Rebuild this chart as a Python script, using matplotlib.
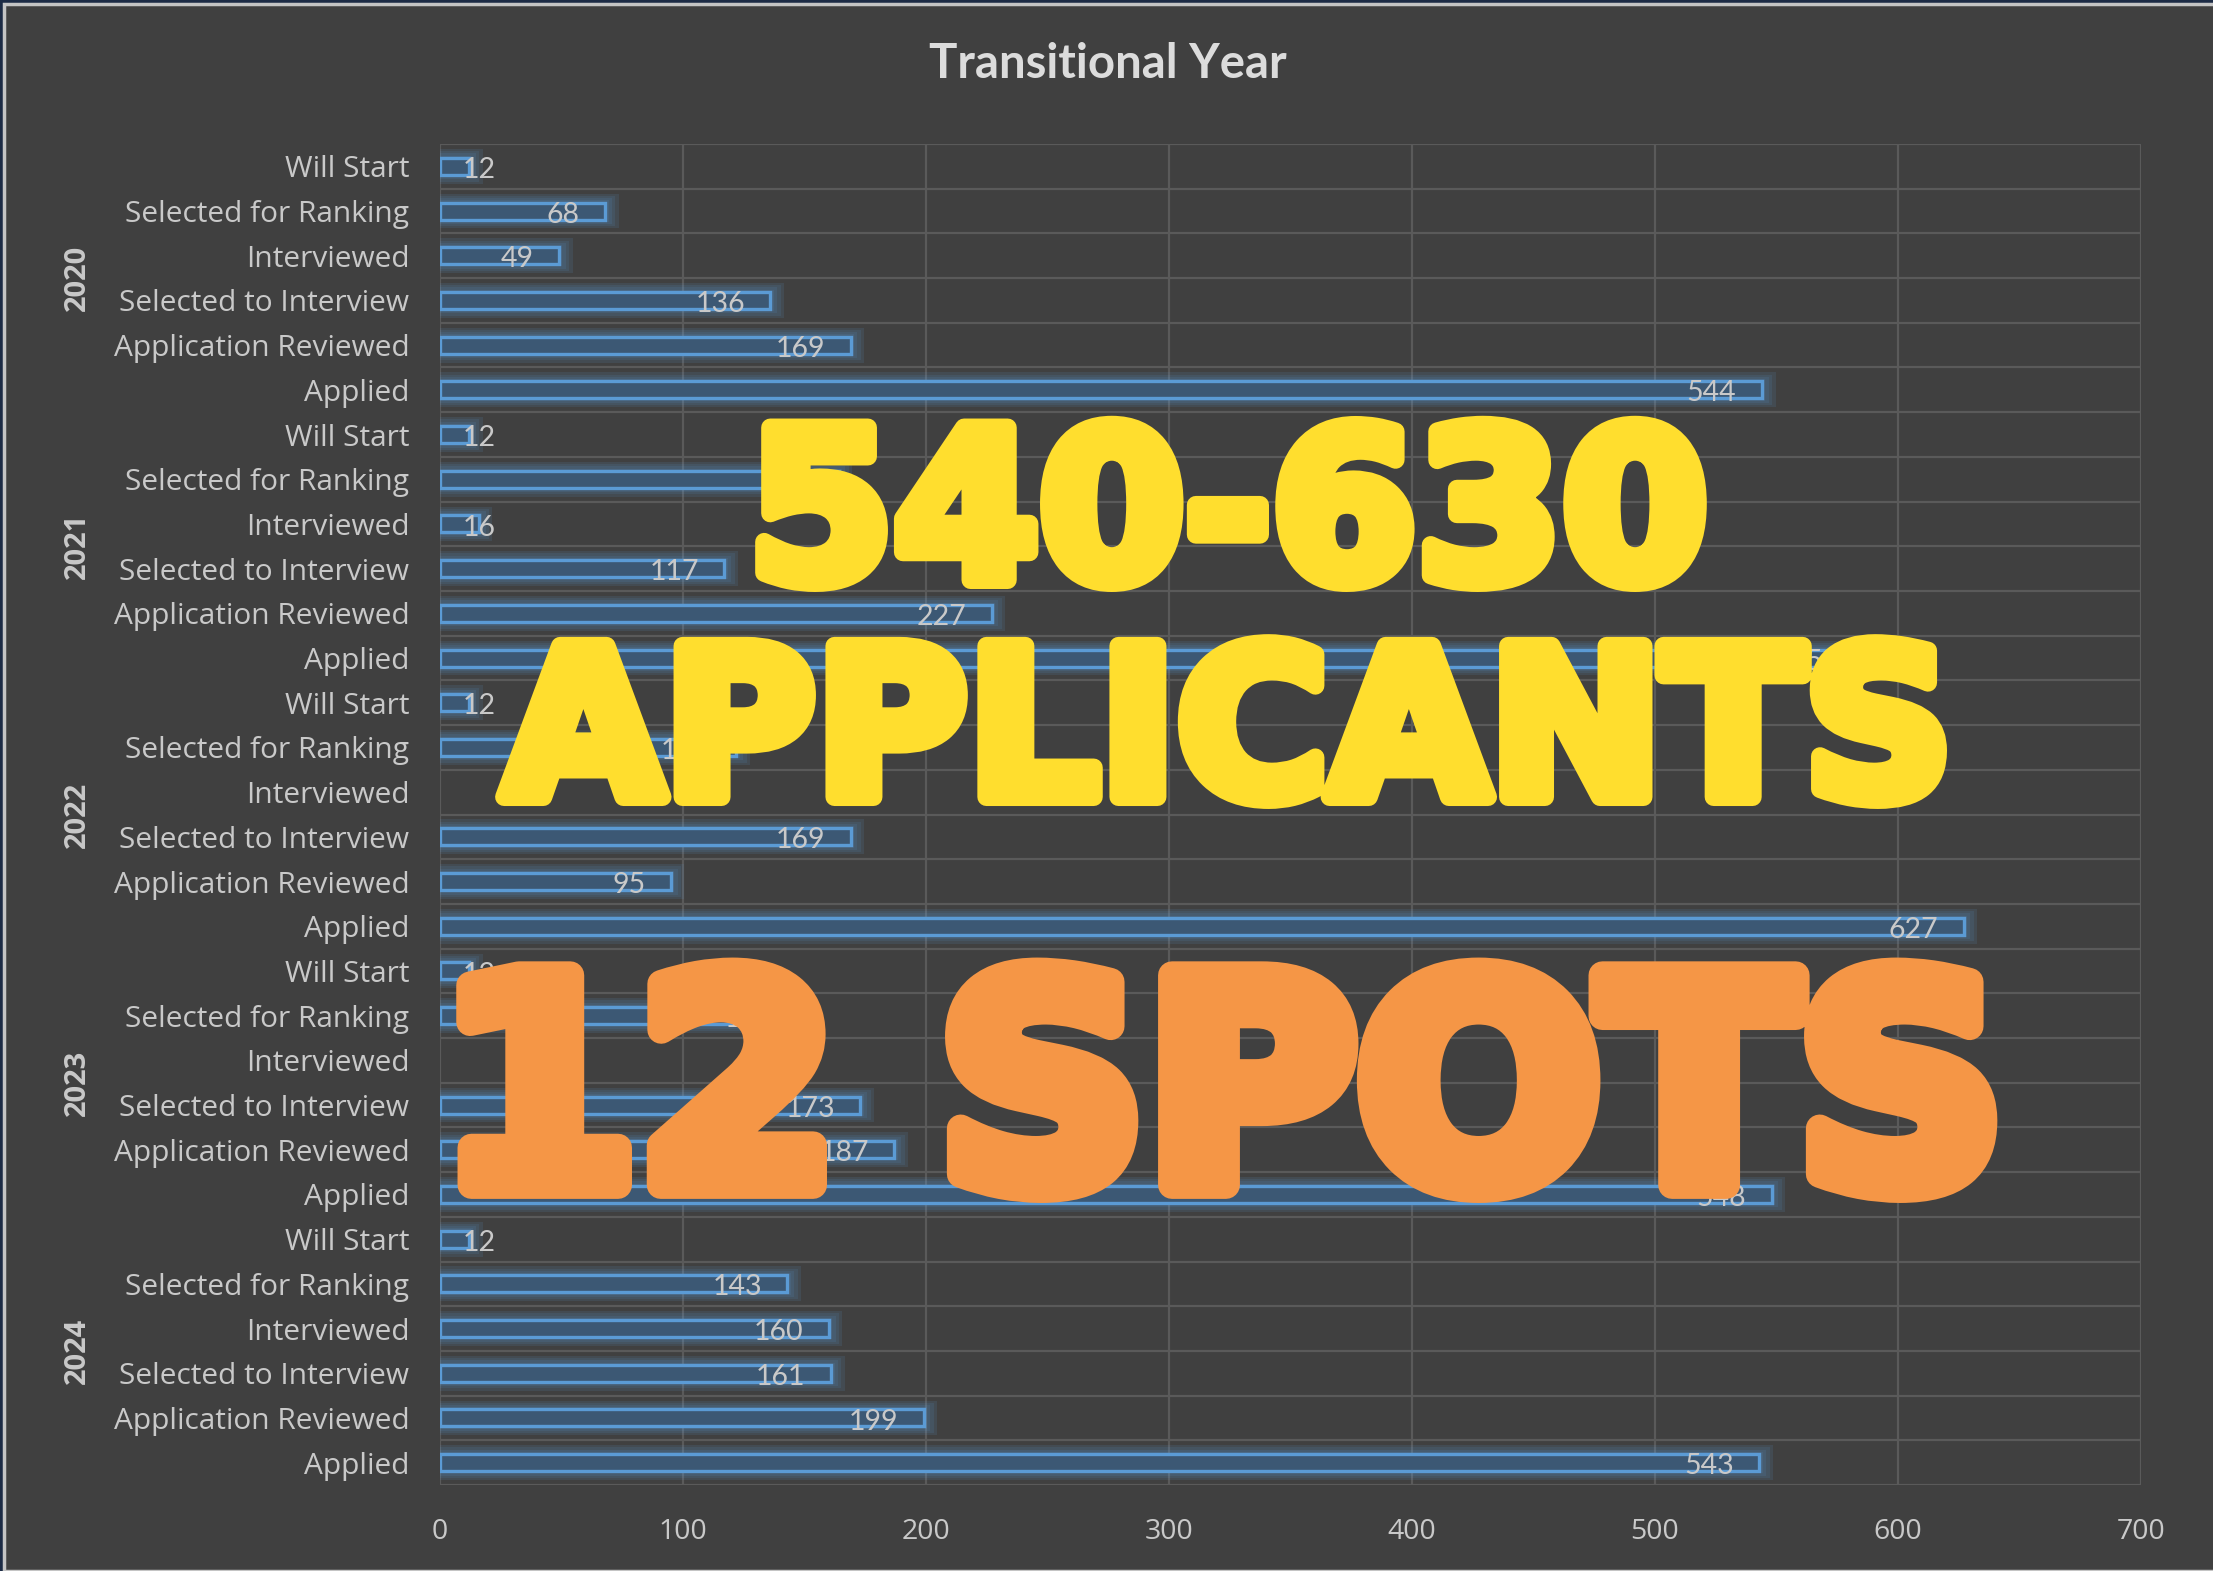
import matplotlib.pyplot as plt
from matplotlib.patches import Rectangle
import matplotlib.patheffects as pe

years = ["2020", "2021", "2022", "2023", "2024"]
stages = ["Applied", "Application Reviewed", "Selected to Interview",
          "Interviewed", "Selected for Ranking", "Will Start"]

# values per year, in stage order above (None = no bar)
values_2020 = [544, 169, 136, 49, 68, 12]
values_2021 = [593, 227, 117, 16, 164, 12]
values_2022 = [627, 95, 169, None, 122, 12]
values_2023 = [548, 187, 173, None, 148, 12]
values_2024 = [543, 199, 161, 160, 143, 12]
all_values = [values_2020, values_2021, values_2022, values_2023, values_2024]

x_ticks = [0, 100, 200, 300, 400, 500, 600, 700]

BG = "#404040"
GRID = "#5a5a5a"
TXT = "#c9c9c9"
EDGE = "#5b9bd5"
FILL = "#3c5874"


def fit_text(fig, t, target_w):
    r = fig.canvas.get_renderer()
    w = t.get_window_extent(renderer=r).width
    t.set_fontsize(t.get_fontsize() * target_w / w)


def main():
    fig = plt.figure(figsize=(22.13, 15.71), dpi=100, facecolor="#1c2b45")
    fig.patches.append(Rectangle((4 / 2213, 0), 1, 1 - 4 / 1571, transform=fig.transFigure,
                                 facecolor=BG, edgecolor="#c4c4c4", linewidth=2.5, zorder=-10))

    ax = fig.add_axes([440 / 2213, 1 - 1485 / 1571, 1701 / 2213, 1341 / 1571])
    ax.set_facecolor(BG)
    ax.patch.set_alpha(0)

    n = len(years) * len(stages)
    rows, labels = [], []
    for g, vals in enumerate(all_values):
        for s, v in enumerate(vals):
            row = g * len(stages) + (len(stages) - 1 - s)
            rows.append(row)
            labels.append(stages[s])
            if v is None:
                continue
            # glow
            for k in range(1, 5):
                ax.barh(row, v + k * 1.4, height=0.38 + k * 0.1, left=0,
                        color=EDGE, alpha=0.12, linewidth=0, zorder=2)
            ax.barh(row, v, height=0.38, left=0, color=FILL, edgecolor=EDGE,
                    linewidth=2.4, zorder=3)
            if v < 40:
                ax.text(9.5, row + 0.08, str(v), ha="left", va="center",
                        color=TXT, fontsize=20.5, family="Lato", zorder=4)
            else:
                ax.text(v - 10.5, row + 0.08, str(v), ha="right", va="center",
                        color=TXT, fontsize=20.5, family="Lato", zorder=4)

    ax.set_ylim(n - 0.5, -0.5)
    ax.set_xlim(0, 700)
    ax.set_yticks(rows)
    ax.set_yticklabels(labels, family="Open Sans", fontsize=21.5, color=TXT)
    ax.set_xticks(x_ticks)
    ax.set_xticklabels([str(x) for x in x_ticks], family="Open Sans", fontsize=20.5, color=TXT)
    ax.tick_params(length=0)
    ax.tick_params(axis="y", pad=22)
    ax.tick_params(axis="x", pad=24)
    for sp in ax.spines.values():
        sp.set_visible(False)

    for x in x_ticks:
        ax.axvline(x, color=GRID, linewidth=1.6, zorder=1)
    for k in range(n + 1):
        ax.axhline(k - 0.5, color=GRID, linewidth=1.6, zorder=1)

    for g, yr in enumerate(years):
        yc = g * len(stages) + (len(stages) - 1) / 2
        ax.text(-0.213, yc, yr, transform=ax.get_yaxis_transform(), rotation=90,
                ha="center", va="center", color=TXT, fontsize=21, fontweight="bold",
                family="Open Sans")

    fig.text(0.5007, 1 - 64 / 1571, "Transitional Year", ha="center", va="center",
             color="#dcdcdc", fontsize=34, fontweight="bold", family="Lato")

    yellow = "#ffde2e"
    orange = "#f59646"
    t1 = fig.text(1228 / 2213, 1 - 522 / 1571, "540-630", ha="center", va="center",
                  color=yellow, fontsize=150, fontweight="bold", family="DejaVu Sans", zorder=10,
                  path_effects=[pe.withStroke(linewidth=13, foreground=yellow, capstyle="round")])
    t2 = fig.text(1228 / 2213, 1 - 740 / 1571, "APPLICANTS", ha="center", va="center",
                  color=yellow, fontsize=150, fontweight="bold", family="DejaVu Sans", zorder=10,
                  path_effects=[pe.withStroke(linewidth=13, foreground=yellow, capstyle="round")])
    t3 = fig.text(1221 / 2213, 1 - 1106 / 1571, "12 SPOTS", ha="center", va="center",
                  color=orange, fontsize=200, fontweight="bold", family="DejaVu Sans", zorder=10,
                  path_effects=[pe.withStroke(linewidth=20, foreground=orange, capstyle="round")])
    fit_text(fig, t1, 974 - 14)
    fit_text(fig, t2, 1468 - 18)
    fit_text(fig, t3, 1595 - 28)

    fig.savefig("out.png", dpi=100, facecolor=fig.get_facecolor())
    plt.close(fig)


if __name__ == "__main__":
    main()
